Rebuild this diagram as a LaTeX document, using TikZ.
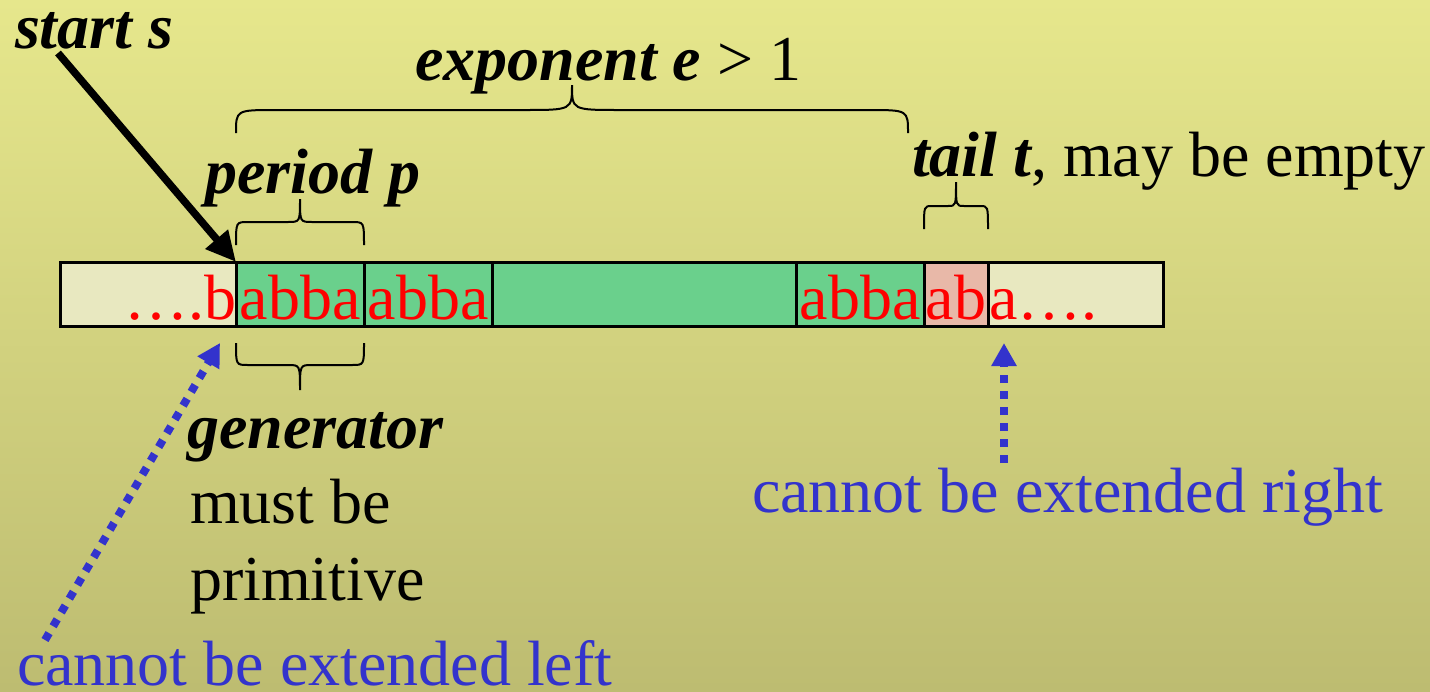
\documentclass[tikz,border=0pt]{standalone}
\usepackage{fontspec}
\setmainfont{Liberation Serif}
\usetikzlibrary{arrows.meta}
\definecolor{bgtop}{RGB}{230,231,140}
\definecolor{bgbot}{RGB}{189,188,113}
\definecolor{cream}{RGB}{232,232,192}
\definecolor{cellgreen}{RGB}{106,208,140}
\definecolor{tailpink}{RGB}{232,184,168}
\definecolor{txtred}{RGB}{255,0,0}
\definecolor{arrowblue}{RGB}{51,51,204}
\newcommand\mybrace[7]{%
  \draw[bracepath] (#1,#3) .. controls (#1,#4) .. (#1+#6,#4)
    -- ({(#1+#2)/2-#7},#4) .. controls ({(#1+#2)/2},#4) .. ({(#1+#2)/2},#5)
    .. controls ({(#1+#2)/2},#4) .. ({(#1+#2)/2+#7},#4)
    -- (#2-#6,#4) .. controls (#2,#4) .. (#2,#3);}
\begin{document}
\begin{tikzpicture}[x=1pt,y=-1pt,
  every node/.style={inner sep=0pt, outer sep=0pt, font=\fontsize{64}{76}\selectfont},
  cell/.style={draw=black, line width=3pt, minimum height=64pt, anchor=north west},
  lbl/.style={anchor=base west},
  bi/.style={font=\fontsize{64}{76}\selectfont\bfseries\itshape},
  strtxt/.style={text=txtred},
  bracepath/.style={draw=black, line width=2pt},
  bluearrow/.style={draw=arrowblue, line width=8pt, dash pattern=on 8pt off 8pt,
    -{Triangle[length=23pt,width=24pt,fill=arrowblue]}},
  blackarrow/.style={draw=black, line width=7.5pt, -{Triangle[length=30pt,width=28pt]}}
]
\shade[top color=bgtop, bottom color=bgbot] (0,0) rectangle (1430,691);
\useasboundingbox (0,0) rectangle (1430,691);

% strip
\node[cell, fill=cream, minimum width=176pt] (lcell) at (60,262) {};
\node[cell, fill=cellgreen, minimum width=128pt] (g1) at (236,262) {};
\node[cell, fill=cellgreen, minimum width=128pt] (g2) at (364,262) {};
\node[cell, fill=cellgreen, minimum width=304pt] (g3) at (492,262) {};
\node[cell, fill=cellgreen, minimum width=128pt] (g4) at (796,262) {};
\node[cell, fill=tailpink, minimum width=64pt] (tcell) at (924,262) {};
\node[cell, fill=cream, minimum width=175pt] (rcell) at (988,262) {};

\node[strtxt, anchor=base east] (ltxt) at (236,319) {….b};
\node[strtxt, anchor=base] (a1) at (300,319) {abba};
\node[strtxt, anchor=base] (a2) at (428,319) {abba};
\node[strtxt, anchor=base] (a4) at (860,319) {abba};
\node[strtxt, anchor=base] (atl) at (956,319) {ab};
\node[strtxt, anchor=base west] (rtxt) at (989,319) {a….};

% labels
\node[lbl, bi] (starttxt) at (15,48) {start s};
\node[lbl] (exptxt) at (415,80) {\bfseries\itshape exponent e\mdseries\upshape{} > 1};
\node[lbl, bi] (pertxt) at (205,193) {period p};
\node[lbl] (tailtxt) at (912,176) {\bfseries\itshape tail t\mdseries\upshape, may be empty};
\node[lbl, bi] (gentxt) at (187,448) {generator};
\node[lbl] (must) at (190,523) {must be};
\node[lbl] (prim) at (190,600) {primitive};
\node[lbl, text=arrowblue] (cleft) at (17,685) {cannot be extended left};
\node[lbl, text=arrowblue] (cright) at (752,512) {cannot be extended right};

% braces
\mybrace{236}{908}{133}{110}{85}{40}{48}
\mybrace{236}{364}{245}{222}{199}{12}{12}
\mybrace{924}{988}{229}{206}{182}{8}{8}
\mybrace{236}{364}{343}{365}{390}{12}{12}

% arrows
\coordinate (startfrom) at (58,53);
\draw[blackarrow] (startfrom) -- (g1.north west);
\coordinate (leftfrom) at (45,640);
\coordinate (lefttip) at (220,343);
\draw[bluearrow] (leftfrom) -- (lefttip);
\coordinate (rightfrom) at (1004,463);
\coordinate (righttip) at (1004,343);
\draw[bluearrow] (rightfrom) -- (righttip);
\end{tikzpicture}
\end{document}
